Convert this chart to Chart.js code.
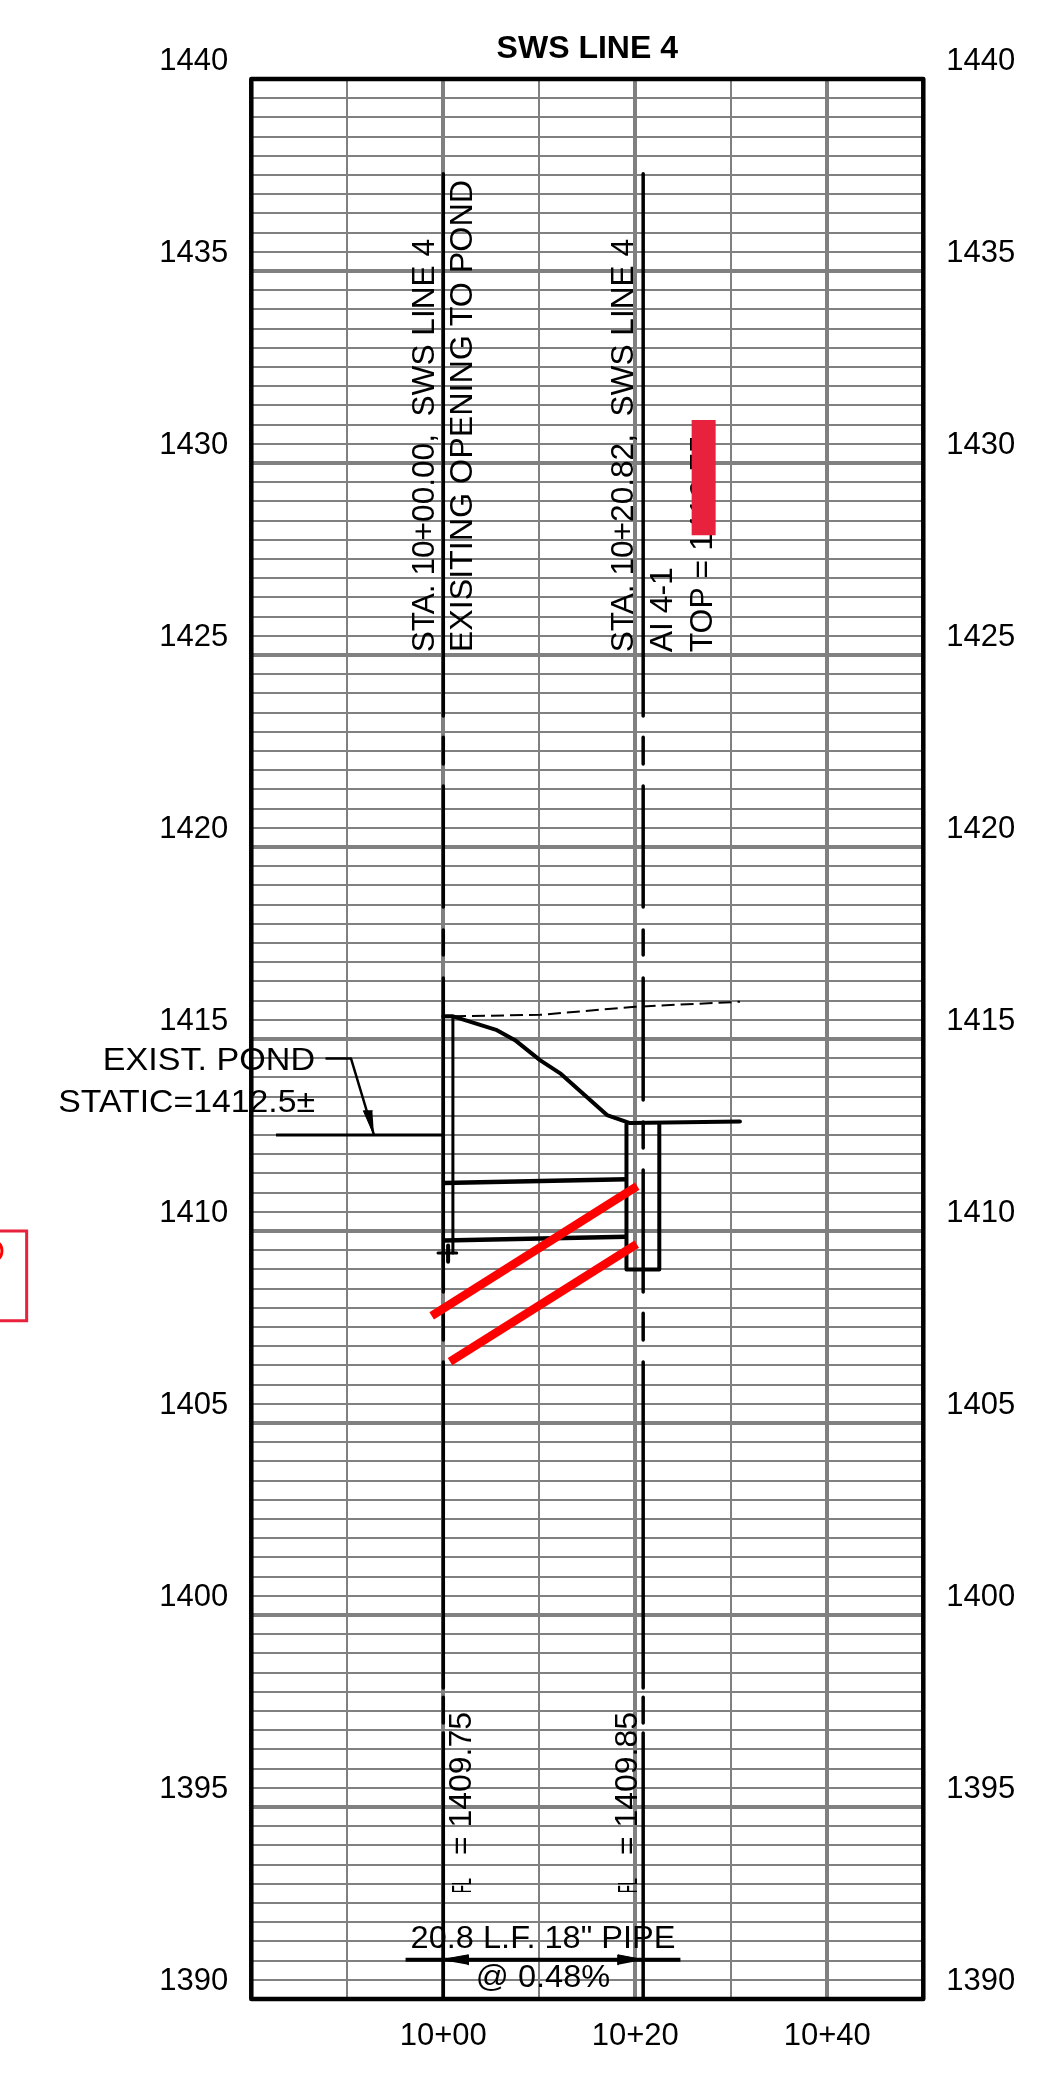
<!DOCTYPE html>
<html>
<head>
<meta charset="utf-8">
<title>SWS LINE 4</title>
<style>
    html, body { margin: 0; padding: 0; background: #fff; }
    canvas { display: block; }
</style>
<script src="https://cdn.jsdelivr.net/npm/chart.js@4"></script>
</head>
<body>
<canvas id="profile" width="1038" height="2073"></canvas>
<script>
// x values are feet past station 10+00, y values are elevations
const stationLabels = { 0: '10+00', 20: '10+20', 40: '10+40' };
const elevationLabels = [1390, 1395, 1400, 1405, 1410, 1415, 1420, 1425, 1430, 1435, 1440];

const existingGround = [[1.01, 1415.59], [10.07, 1415.63], [19.96, 1415.84], [30.9, 1415.97]];
const proposedGround = [[0, 1415.59], [1.01, 1415.59], [5.59, 1415.23], [7.47, 1414.97], [10.07, 1414.45], [12.26, 1414.09], [17.05, 1413.02], [19.45, 1412.81], [30.9, 1412.85]];
const pipeCrown = [[0, 1411.25], [19.1, 1411.35]];
const pipeInvert = [[0, 1409.75], [19.1, 1409.85]];
const structureBox = [[19.08, 1412.78], [19.08, 1409.0], [22.5, 1409.0], [22.5, 1412.8]];
const headwall = [[1.0, 1415.59], [1.0, 1409.43]];
const headwallTick = [[-0.55, 1409.43], [1.4, 1409.43]];
const headwallMark = [[0.5, 1409.62], [0.5, 1409.2]];
const pondLevel = [[-17.43, 1412.5], [0, 1412.5]];
const pondLeader = [[-12.27, 1414.49], [-9.61, 1414.49], [-7.22, 1412.5]];
const pondArrow = [[-7.22, 1412.5], [-8.33, 1413.13], [-7.39, 1413.13]];
const pipeDimension = [[-3.93, 1391.02], [24.7, 1391.02]];
const dimArrowLeft = [[-0.3, 1391.02], [2.6, 1391.15], [2.6, 1390.89]];
const dimArrowRight = [[20.9, 1391.02], [18.2, 1391.15], [18.2, 1390.89]];
const redLineUpper = [[-1.21, 1407.79], [20.2, 1411.17]];
const redLineLower = [[0.7, 1406.6], [20.15, 1409.66]];
const redBlock = [[25.87, 1431.12], [28.37, 1431.12], [28.37, 1428.12], [25.87, 1428.12], [25.87, 1431.12]];
const redFrame = [[-47, 1410], [-43.4, 1410], [-43.4, 1407.66], [-47, 1407.66]];
const plotFrame = [[-20, 1440], [50, 1440], [50, 1390], [-20, 1390], [-20, 1440]];

// elevation runs of the two station lines, the breaks are the dashes
const station0Runs = [[1437.53, 1423.41], [1422.86, 1422.16], [1421.59, 1418.44], [1417.84, 1417.19], [1416.59, 1408.41], [1407.86, 1407.16], [1406.59, 1398.1], [1397.86, 1397.19], [1396.93, 1390]];
const station20Runs = [[1437.53, 1423.41], [1422.86, 1422.16], [1421.59, 1418.44], [1417.84, 1417.19], [1416.59, 1413.41], [1412.84, 1412.16], [1411.59, 1408.41], [1407.86, 1407.16], [1406.59, 1398.1], [1397.86, 1397.19], [1396.93, 1390]];

const font = 'Liberation Sans';
const black = '#000';
const red = '#ff0000';
const redBox = '#e8213c';

// stretch widens the text along its baseline, the drawing text is a bit wider than a plain font
const notes = [
    { text: 'STA. 10+00.00,  SWS LINE 4', x: -0.97, y: 1425.07, size: 31, turned: true, stretch: 1.02 },
    { text: 'EXISITING OPENING TO POND', x: 2.94, y: 1425.07, size: 31, turned: true, stretch: 1.04 },
    { text: 'STA. 10+20.82,  SWS LINE 4', x: 19.76, y: 1425.07, size: 31, turned: true, stretch: 1.02 },
    { text: 'AI 4-1', x: 23.82, y: 1425.07, size: 31, turned: true, stretch: 1.03 },
    { text: 'TOP = 1412.75', x: 27.99, y: 1425.07, size: 31, turned: true, stretch: 1.03 },
    { text: 'FL', x: 2.9, y: 1392.76, size: 28, turned: true, squeeze: 15 },
    { text: '= 1409.75', x: 2.9, y: 1393.75, size: 31, turned: true, stretch: 1.03 },
    { text: 'FL', x: 20.19, y: 1392.76, size: 28, turned: true, squeeze: 15 },
    { text: '= 1409.85', x: 20.19, y: 1393.75, size: 31, turned: true, stretch: 1.03 },
    { text: 'EXIST. POND', x: -13.36, y: 1414.19, size: 31, align: 'right', stretch: 1.1 },
    { text: 'STATIC=1412.5\u00b1', x: -13.36, y: 1413.1, size: 31, align: 'right', stretch: 1.09 },
    { text: '20.8 L.F. 18" PIPE', x: 10.39, y: 1391.33, size: 31, align: 'center', stretch: 1.05 },
    { text: '@ 0.48%', x: 10.39, y: 1390.3, size: 31, align: 'center', stretch: 1.05 },
    { text: 'D', x: -45.66, y: 1409.19, size: 31, align: 'right', color: red }
];

function toPoints(pairs) {
    return pairs.map(p => ({ x: p[0], y: p[1] }));
}

function toRuns(station, runs) {
    const points = [];
    runs.forEach(run => {
        points.push({ x: station, y: run[0] }, { x: station, y: run[1] });
        points.push({ x: station, y: null });
    });
    return points;
}

function line(pairs, color, width, extra) {
    return Object.assign({
        data: toPoints(pairs),
        showLine: true,
        borderColor: color,
        backgroundColor: color,
        borderWidth: width,
        pointRadius: 0,
        borderCapStyle: 'round',
        borderJoinStyle: 'round'
    }, extra);
}

const noteLabels = {
    id: 'noteLabels',
    beforeDatasetsDraw(chart) {
        const ctx = chart.ctx;
        notes.forEach(note => {
            ctx.save();
            ctx.translate(chart.scales.x.getPixelForValue(note.x), chart.scales.y.getPixelForValue(note.y));
            if (note.turned) ctx.rotate(-Math.PI / 2);
            if (note.stretch) ctx.scale(note.stretch, 1);
            ctx.font = note.size + 'px "' + font + '"';
            ctx.fillStyle = note.color || black;
            ctx.textAlign = note.align || 'left';
            ctx.textBaseline = 'alphabetic';
            if (note.squeeze) ctx.fillText(note.text, 0, 0, note.squeeze);
            else ctx.fillText(note.text, 0, 0);
            ctx.restore();
        });
    }
};

new Chart(document.getElementById('profile'), {
    type: 'scatter',
    plugins: [noteLabels],
    data: {
        datasets: [
            line(redLineUpper, red, 8.5, { borderCapStyle: 'butt' }),
            line(redLineLower, red, 8.5, { borderCapStyle: 'butt' }),
            line(redBlock, redBox, 0, { fill: 'shape', backgroundColor: redBox }),
            line(redFrame, redBox, 3, { clip: false, borderCapStyle: 'butt', borderJoinStyle: 'miter' }),
            line(plotFrame, black, 4.5, { clip: false }),
            line(existingGround, black, 2, { borderDash: [13, 6], borderCapStyle: 'butt' }),
            line(proposedGround, black, 4),
            line(pipeCrown, black, 4.5, { borderCapStyle: 'butt' }),
            line(pipeInvert, black, 4.5, { borderCapStyle: 'butt' }),
            line(structureBox, black, 4),
            line(headwall, black, 3, { borderCapStyle: 'butt' }),
            line(headwallTick, black, 3),
            line(headwallMark, black, 4),
            line(pondLevel, black, 3, { borderCapStyle: 'butt' }),
            line(pondLeader, black, 2.5, { borderCapStyle: 'butt' }),
            line(pondArrow, black, 1, { fill: 'shape' }),
            line(pipeDimension, black, 4, { borderCapStyle: 'butt' }),
            line(dimArrowLeft, black, 1, { fill: 'shape' }),
            line(dimArrowRight, black, 1, { fill: 'shape' }),
            { data: toRuns(0, station0Runs), showLine: true, borderColor: black, borderWidth: 3.5, pointRadius: 0, borderCapStyle: 'round' },
            { data: toRuns(20.82, station20Runs), showLine: true, borderColor: black, borderWidth: 3.5, pointRadius: 0, borderCapStyle: 'round' }
        ]
    },
    options: {
        responsive: false,
        animation: false,
        events: [],
        plugins: {
            legend: { display: false },
            tooltip: { enabled: false },
            title: {
                display: true,
                text: 'SWS LINE 4',
                fullSize: false,
                color: black,
                font: { family: font, size: 32, weight: 'bold', lineHeight: 1.2 },
                padding: { top: 30, bottom: 10.6 }
            }
        },
        scales: {
            x: {
                type: 'linear',
                min: -20,
                max: 50,
                afterFit(axis) { axis.height = 74; },
                border: { display: false },
                grid: {
                    color: '#808080',
                    drawTicks: false,
                    lineWidth: c => (c.tick.value % 20 === 0 ? 4 : 2)
                },
                ticks: {
                    stepSize: 10,
                    autoSkip: false,
                    maxRotation: 0,
                    padding: 19,
                    color: black,
                    font: { family: font, size: 31 },
                    callback: v => stationLabels[v] || ''
                }
            },
            y: {
                type: 'linear',
                position: 'left',
                min: 1390,
                max: 1440,
                afterFit(axis) { axis.width = 251.3; },
                border: { display: false },
                grid: {
                    color: '#808080',
                    drawTicks: false,
                    lineWidth: c => (c.tick.value % 5 === 0 ? 4 : 2)
                },
                ticks: {
                    stepSize: 0.5,
                    autoSkip: false,
                    padding: 23,
                    labelOffset: -17.5,
                    color: black,
                    font: { family: font, size: 31 },
                    callback: v => (elevationLabels.includes(v) ? String(v) : '')
                }
            },
            yRight: {
                type: 'linear',
                position: 'right',
                min: 1390,
                max: 1440,
                afterFit(axis) { axis.width = 114.7; },
                border: { display: false },
                grid: { display: false, drawTicks: false },
                ticks: {
                    stepSize: 0.5,
                    autoSkip: false,
                    padding: 23,
                    labelOffset: -17.5,
                    color: black,
                    font: { family: font, size: 31 },
                    callback: v => (elevationLabels.includes(v) ? String(v) : '')
                }
            }
        }
    }
});
</script>
</body>
</html>
